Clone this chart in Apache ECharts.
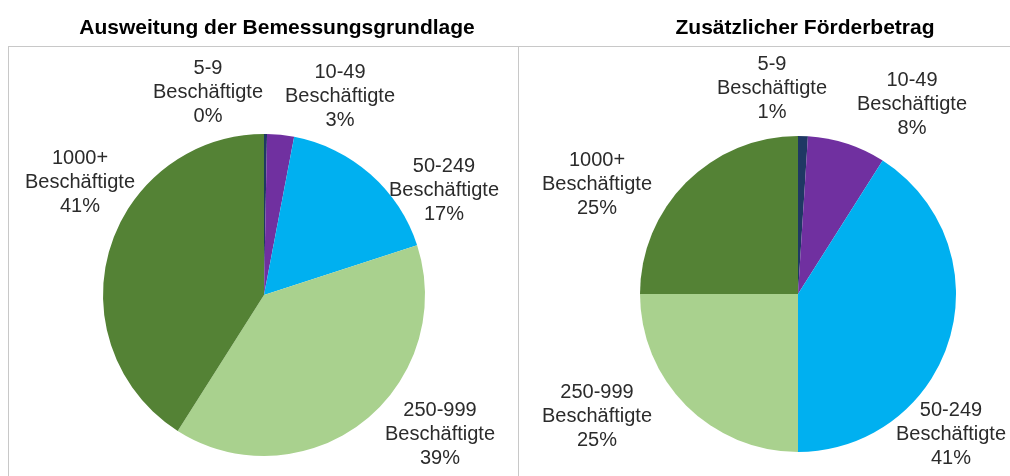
<!DOCTYPE html>
<html>
<head>
<meta charset="utf-8">
<script src="https://cdn.jsdelivr.net/npm/echarts@6/dist/echarts.min.js"></script>
<style>
  html, body { margin: 0; padding: 0; background: #fff; }
  #chart { width: 1010px; height: 476px; }
</style>
</head>
<body>
<div id="chart"></div>
<script>
// data
const categories = ['5-9', '10-49', '50-249', '250-999', '1000+'];
const unitLabel = 'Beschäftigte';
const titles = ['Ausweitung der Bemessungsgrundlage', 'Zusätzlicher Förderbetrag'];
const bemessungValues = [0.3, 2.7, 17, 39, 41];
const foerderValues = [1, 8, 41, 25, 25];
const colors = ['#1f3864', '#7030a0', '#00b0f0', '#a9d18e', '#548235'];

// label centres per pie (hand placed like the original)
const labelPos = [
  [[208, 92], [340, 96], [444, 190], [440, 434], [80, 182]],
  [[772, 88], [912, 104], [951, 434], [597, 416], [597, 184]]
];

const font = 'Liberation Sans, Arial, sans-serif';
const chart = echarts.init(document.getElementById('chart'));

function makePie(values, center, radius) {
  return {
    type: 'pie',
    center: center,
    radius: radius,
    startAngle: 90,
    clockwise: true,
    animation: false,
    emphasis: { disabled: true },
    itemStyle: { borderWidth: 0 },
    label: { show: false },
    labelLine: { show: false },
    data: categories.map((c, i) => ({ name: c, value: values[i], itemStyle: { color: colors[i] } }))
  };
}

function pct(values, i) {
  const sum = values.reduce((a, b) => a + b, 0);
  return Math.round(values[i] / sum * 100);
}

// slice labels as text, built from the same arrays
const labelTexts = [];
[bemessungValues, foerderValues].forEach((vals, s) => {
  categories.forEach((c, i) => {
    labelTexts.push({
      type: 'text',
      x: labelPos[s][i][0],
      y: labelPos[s][i][1],
      silent: true,
      style: {
        text: c + '\n' + unitLabel + '\n' + pct(vals, i) + '%',
        fontFamily: font,
        fontSize: 20,
        lineHeight: 24,
        fill: '#2b2b2b',
        align: 'center',
        verticalAlign: 'middle'
      }
    });
  });
});

chart.setOption({
  backgroundColor: '#fff',
  title: [
    { text: titles[0], left: 272, top: 13, textAlign: 'center',
      textStyle: { fontFamily: font, fontSize: 21, fontWeight: 'bold', color: '#000' } },
    { text: titles[1], left: 800, top: 13, textAlign: 'center',
      textStyle: { fontFamily: font, fontSize: 21, fontWeight: 'bold', color: '#000' } }
  ],
  graphic: [
    { type: 'line', shape: { x1: 8, y1: 46.5, x2: 1010, y2: 46.5 }, style: { stroke: '#c8c8c8', lineWidth: 1 }, silent: true },
    { type: 'line', shape: { x1: 8.5, y1: 46, x2: 8.5, y2: 476 }, style: { stroke: '#c8c8c8', lineWidth: 1 }, silent: true },
    { type: 'line', shape: { x1: 518.5, y1: 46, x2: 518.5, y2: 476 }, style: { stroke: '#c8c8c8', lineWidth: 1 }, silent: true }
  ].concat(labelTexts),
  series: [
    makePie(bemessungValues, [264, 295], 161),
    makePie(foerderValues, [798, 294], 158)
  ]
});
</script>
</body>
</html>
